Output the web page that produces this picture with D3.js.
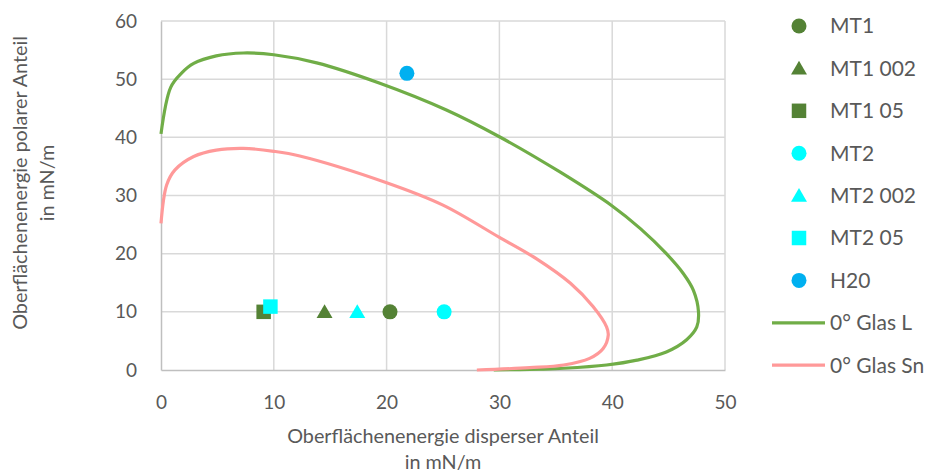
<!DOCTYPE html>
<html>
<head>
<meta charset="utf-8">
<script src="https://cdn.jsdelivr.net/npm/d3@7/dist/d3.min.js"></script>
<style>
  html, body { margin: 0; padding: 0; background: #fff; }
  svg { display: block; font-family: Lato, "Open Sans", sans-serif; }
</style>
</head>
<body>
<svg id="chart" width="927" height="472"></svg>
<script>
// Measured samples: dispersive (x) and polar (y) surface energy in mN/m
const sampleNames = ["MT1", "MT1 002", "MT1 05", "MT2", "MT2 002", "MT2 05", "H20"];
const sampleX = [20.3, 14.5, 9.1, 25.1, 17.4, 9.7, 21.8];
const sampleY = [10, 10, 10, 10, 10, 10.9, 51];
const sampleShape = ["circle", "triangle", "square", "circle", "triangle", "square", "circle"];
const sampleColor = ["#548235", "#548235", "#548235", "#00FFFF", "#00FFFF", "#00FFFF", "#00B0F0"];

// Wetting envelopes
const envelopeNames = ["0° Glas L", "0° Glas Sn"];
const envelopeColor = ["#70AD47", "#FF9999"];
const glasLX = [0, 0.86, 1.8, 2.9, 4.9, 7.3, 10, 13.8, 19.4, 25.3, 30, 35.4, 40, 42.5, 44.8, 46.3, 47.2, 47.65, 47.5, 46.6, 44.8, 42.2, 39.5, 35.7, 33.6, 29.5];
const glasLY = [40.6, 48.6, 51, 52.7, 54.0, 54.5, 54.2, 52.8, 49.3, 44.7, 40.1, 34.0, 28.2, 24.3, 20, 16.6, 13.7, 10, 7.4, 5.2, 3.1, 1.7, 0.86, 0.3, 0.15, 0];
const glasSnX = [0, 0.5, 1.24, 2.9, 4.9, 7.3, 10, 12.3, 20, 25, 30, 33.3, 36.3, 38.3, 39.5, 39.65, 39.2, 38.0, 35.7, 32.7, 28];
const glasSnY = [25.2, 31.8, 34.4, 36.7, 37.8, 38.1, 37.6, 36.8, 32.2, 28.35, 22.8, 19.1, 14.9, 10.9, 7.4, 6.0, 3.7, 2.0, 0.86, 0.4, 0];

// Axes
const xTicks = [0, 10, 20, 30, 40, 50];
const yTicks = [0, 10, 20, 30, 40, 50, 60];
const xTitle = ["Oberflächenenergie disperser Anteil", "in mN/m"];
const yTitle = ["Oberflächenenergie polarer Anteil", "in mN/m"];

const svg = d3.select("#chart");
const plot = { left: 161, right: 725, top: 21, bottom: 370 };

const x = d3.scaleLinear().domain([0, 50]).range([plot.left, plot.right]);
const y = d3.scaleLinear().domain([0, 60]).range([plot.bottom, plot.top]);

const textColor = "#595959";
const gridColor = "#D9D9D9";
const axisColor = "#BFBFBF";

// Gridlines
const grid = svg.append("g");
grid.selectAll(".gx").data(xTicks.slice(1)).join("line")
  .attr("x1", d => x(d)).attr("x2", d => x(d))
  .attr("y1", plot.top).attr("y2", plot.bottom)
  .attr("stroke", gridColor).attr("stroke-width", 1.5);
grid.selectAll(".gy").data(yTicks.slice(1)).join("line")
  .attr("x1", plot.left).attr("x2", plot.right)
  .attr("y1", d => y(d)).attr("y2", d => y(d))
  .attr("stroke", gridColor).attr("stroke-width", 1.5);

// Axis lines and tick labels via d3 axes
const xAxis = svg.append("g")
  .attr("transform", `translate(0,${plot.bottom})`)
  .call(d3.axisBottom(x).tickValues(xTicks).tickSize(0).tickPadding(25));
const yAxis = svg.append("g")
  .attr("transform", `translate(${plot.left},0)`)
  .call(d3.axisLeft(y).tickValues(yTicks).tickSize(0).tickPadding(24));
[xAxis, yAxis].forEach(a => {
  a.select(".domain").attr("stroke", axisColor).attr("stroke-width", 1.5);
  a.selectAll("text").attr("fill", textColor).style("font-size", "19px")
    .style("font-family", "Lato, 'Open Sans', sans-serif");
});
xAxis.selectAll("text").attr("dy", "0.32em").attr("y", 33);

// Axis titles
const xt = svg.append("text").attr("text-anchor", "middle").attr("fill", textColor)
  .style("font-size", "19.8px");
xTitle.forEach((t, i) => xt.append("tspan").attr("x", 443).attr("y", 443 + i * 26).text(t));

const yt = svg.append("text").attr("text-anchor", "middle").attr("fill", textColor)
  .style("font-size", "19.8px")
  .attr("transform", "translate(0,183) rotate(-90)");
yTitle.forEach((t, i) => yt.append("tspan").attr("x", 0).attr("y", 27 + i * 27).text(t));

// Envelope lines
const lineGen = d3.line().x(d => x(d[0])).y(d => y(d[1])).curve(d3.curveCatmullRom.alpha(0.5));
const envelopes = [d3.zip(glasLX, glasLY), d3.zip(glasSnX, glasSnY)];
svg.append("g").selectAll("path").data(envelopes).join("path")
  .attr("d", lineGen)
  .attr("fill", "none")
  .attr("stroke", (d, i) => envelopeColor[i])
  .attr("stroke-width", 3.2)
  .attr("stroke-linejoin", "round")
  .attr("stroke-linecap", "butt");

// Marker symbols
const symbolType = { circle: d3.symbolCircle, triangle: d3.symbolTriangle, square: d3.symbolSquare };
const symbolSize = { circle: 177, triangle: 110, square: 210 };
function marker(shape) {
  return d3.symbol().type(symbolType[shape]).size(symbolSize[shape])();
}

const samples = sampleNames.map((n, i) => ({ name: n, x: sampleX[i], y: sampleY[i], shape: sampleShape[i], color: sampleColor[i] }));
svg.append("g").selectAll("path").data(samples).join("path")
  .attr("d", d => marker(d.shape))
  .attr("transform", d => `translate(${x(d.x)},${y(d.y) + (d.shape === "triangle" ? 1.5 : 0)})`)
  .attr("fill", d => d.color);

// Legend
const legend = svg.append("g").style("font-size", "21px");
const rowY = i => 26 + i * 42.4;
samples.forEach((d, i) => {
  legend.append("path")
    .attr("d", marker(d.shape))
    .attr("transform", `translate(799,${rowY(i) + (d.shape === "triangle" ? 1.5 : 0)})`)
    .attr("fill", d.color);
  legend.append("text").attr("x", 830).attr("y", rowY(i)).attr("dy", "0.35em")
    .attr("fill", textColor).text(d.name);
});
envelopeNames.forEach((n, j) => {
  const i = samples.length + j;
  legend.append("line").attr("x1", 772).attr("x2", 825)
    .attr("y1", rowY(i)).attr("y2", rowY(i))
    .attr("stroke", envelopeColor[j]).attr("stroke-width", 3.2);
  legend.append("text").attr("x", 830).attr("y", rowY(i)).attr("dy", "0.35em")
    .attr("fill", textColor).text(n);
});
</script>
</body>
</html>
